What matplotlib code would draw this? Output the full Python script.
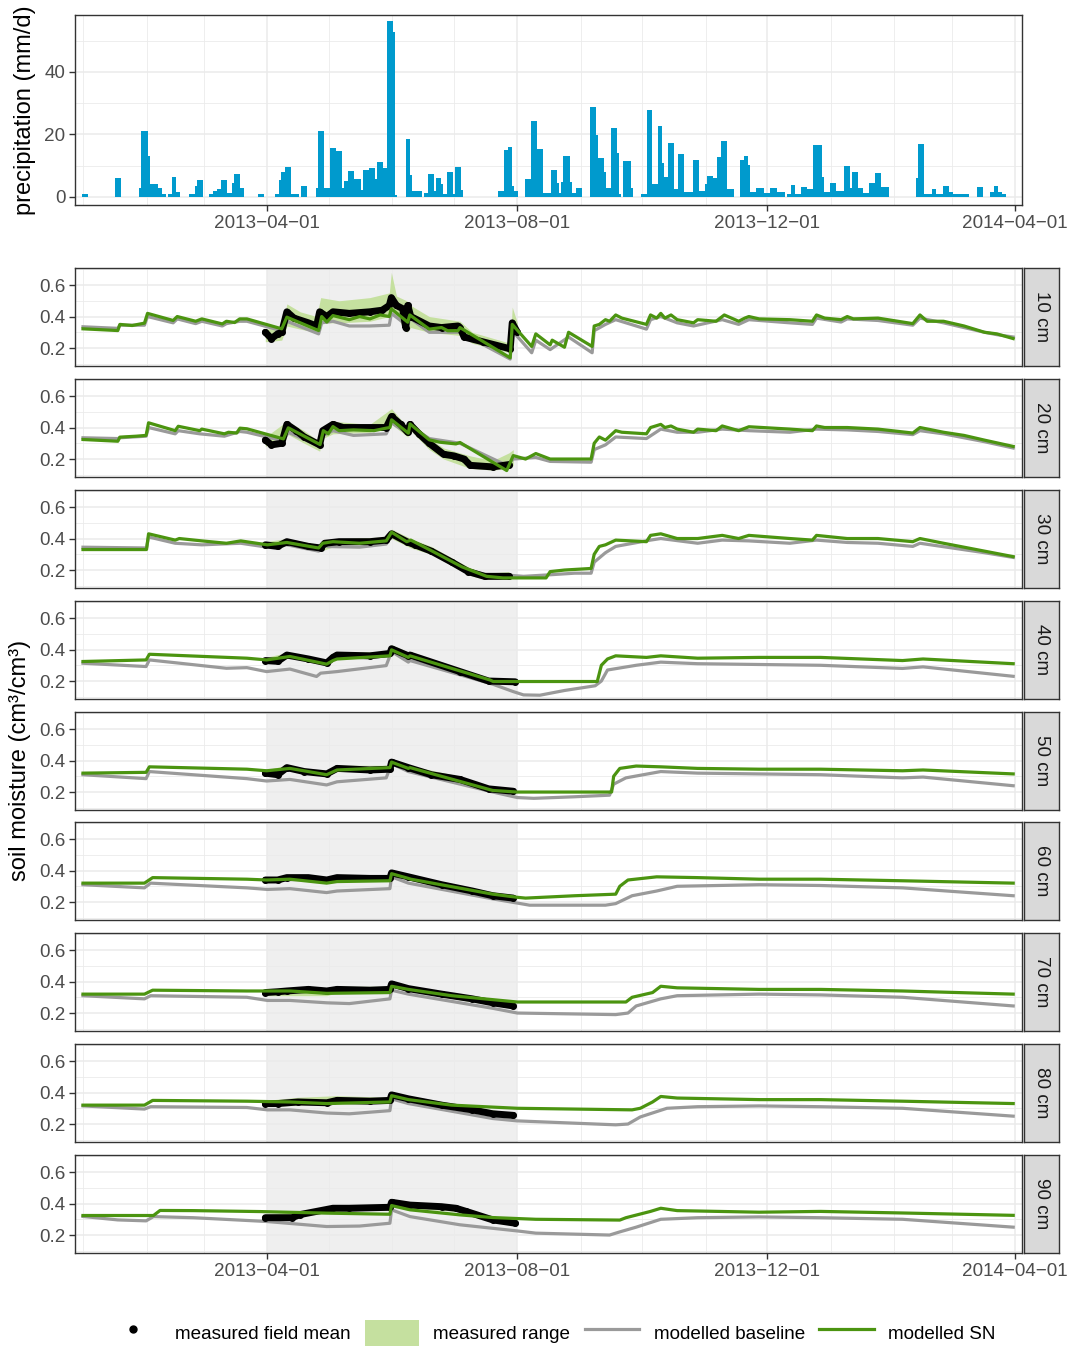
import numpy as np
import matplotlib.pyplot as plt
import matplotlib.dates as mdates
from matplotlib.lines import Line2D
from matplotlib.patches import Patch

plt.rcParams['font.family'] = ['Liberation Sans', 'DejaVu Sans']

# day numbers are counted from 2013-01-01
t0 = mdates.date2num(np.datetime64('2013-01-01'))

# precipitation: runs of days (first day, last day, mm/d)
rain_first = [0, 16, 28, 29, 32, 33, 37, 39, 42, 44, 46, 52, 55, 56, 62, 64, 66, 68, 71, 73, 74, 77,
              86, 94, 96, 97, 99, 102, 107, 114, 115, 118, 121, 124, 127, 128, 130, 133, 136, 137,
              140, 143, 144, 147, 149, 152, 153, 158, 160, 161, 167, 169, 172, 173, 175, 176, 178,
              181, 182, 185, 203, 206, 208, 210, 211, 216, 219, 222, 225, 229, 232, 233, 234, 235,
              238, 239, 241, 248, 251, 252, 255, 256, 258, 261, 262, 264, 268, 273, 276, 278, 281,
              283, 284, 286, 289, 291, 294, 298, 301, 304, 305, 308, 310, 312, 315, 321, 323, 325,
              326, 329, 333, 336, 339, 344, 346, 348, 351, 354, 357, 361, 362, 365, 368, 372, 375,
              376, 379, 381, 384, 387, 390, 407, 408, 411, 415, 417, 420, 423, 425, 437, 443, 445,
              447, 449]
rain_last = [2, 18, 28, 31, 32, 36, 38, 40, 43, 45, 47, 54, 55, 58, 63, 65, 67, 70, 72, 73, 76, 78,
             88, 95, 96, 98, 101, 105, 109, 114, 117, 120, 123, 126, 127, 129, 132, 135, 136, 139,
             142, 143, 146, 148, 151, 152, 153, 159, 160, 165, 168, 171, 172, 174, 175, 177, 180,
             181, 184, 185, 205, 207, 209, 210, 212, 218, 221, 224, 228, 231, 232, 233, 234, 237,
             238, 240, 243, 250, 251, 254, 255, 257, 260, 261, 262, 267, 268, 275, 277, 280, 282,
             283, 285, 288, 290, 293, 297, 300, 303, 304, 307, 309, 311, 314, 317, 322, 324, 325,
             328, 332, 335, 338, 342, 345, 347, 350, 353, 356, 360, 361, 364, 367, 371, 374, 375,
             378, 380, 383, 386, 389, 393, 407, 410, 414, 416, 419, 422, 424, 432, 439, 444, 446,
             448, 450]
rain_mm = [1.0, 6.0, 3.0, 21.0, 13.2, 4.0, 3.0, 1.0, 1.0, 6.3, 1.5, 1.0, 3.5, 5.5, 1.0, 1.8, 2.5,
           5.5, 1.2, 4.5, 7.2, 2.8, 1.0, 1.0, 5.4, 8.0, 9.6, 1.0, 3.5, 3.0, 21.1, 3.0, 15.6, 14.7,
           3.0, 5.1, 8.3, 5.8, 2.2, 8.7, 9.2, 5.6, 11.3, 9.2, 56.3, 52.9, 0.6, 18.6, 7.0, 2.0, 1.2,
           7.3, 2.0, 6.0, 4.0, 1.0, 7.9, 1.0, 9.6, 2.2, 2.0, 15.0, 16.1, 3.6, 2.0, 5.6, 24.3, 15.2,
           1.2, 8.6, 4.4, 1.2, 4.9, 13.2, 4.9, 1.2, 3.0, 28.9, 19.8, 12.6, 8.1, 2.8, 22.0, 14.2,
           1.0, 11.5, 3.0, 1.0, 27.8, 4.0, 22.8, 11.0, 6.4, 17.2, 2.4, 13.8, 1.5, 11.8, 2.0, 4.0,
           6.7, 6.0, 12.7, 18.0, 2.5, 11.8, 13.0, 10.2, 1.5, 3.0, 1.2, 3.0, 1.5, 1.0, 3.8, 1.0, 3.3,
           2.6, 16.6, 6.3, 1.5, 4.3, 2.0, 9.9, 3.0, 8.1, 2.8, 1.2, 4.3, 7.8, 3.3, 6.0, 16.8, 1.0,
           2.6, 1.0, 3.6, 1.5, 1.0, 3.3, 1.5, 3.6, 1.5, 1.0]

depths = ['10 cm', '20 cm', '30 cm', '40 cm', '50 cm', '60 cm', '70 cm', '80 cm', '90 cm']

# soil moisture, (day, value); range is (day, low, high)
sn10 = [(0, .322), (17, .311), (18, .35), (24, .343), (30, .358), (31.5, .42), (44, .375), (46, .40),
        (55, .37), (58, .385), (68, .353), (70, .37), (74, .362), (76.5, .385), (80, .385), (97, .322),
        (99.5, .396), (115, .311), (116.5, .40), (119, .365), (122, .406), (130, .38), (135, .40),
        (140, .385), (145, .41), (149.5, .40), (150.5, .449), (158.5, .364), (159.5, .41), (169, .32),
        (175, .33), (178, .31), (183, .31), (184, .33), (208.5, .138), (209.5, .35), (219, .21),
        (221, .29), (228, .22), (229, .25), (235, .205), (237, .30), (248.5, .21), (249.5, .34),
        (252, .35), (255, .38), (257, .37), (260, .41), (263, .39), (275, .35), (277, .41), (280, .39),
        (282, .42), (284, .39), (287, .41), (290, .38), (298, .36), (300, .38), (309, .37), (312, .40),
        (313, .41), (320, .37), (323, .39), (325, .40), (330, .385), (345, .38), (356, .37), (358, .41),
        (362, .39), (370, .38), (373, .40), (376, .385), (388, .39), (405, .355), (408.5, .41),
        (412, .37), (420, .37), (430, .34), (440, .30), (446, .29), (454, .26)]
bl10 = [(0, .335), (17, .325), (18, .345), (30, .345), (31.5, .40), (44, .36), (46, .385), (55, .355),
        (58, .37), (68, .34), (70, .355), (76.5, .37), (80, .37), (97, .31), (99.5, .37), (115, .29),
        (116.5, .36), (122, .37), (130, .34), (140, .34), (149.5, .345), (150.5, .42), (158.5, .34),
        (159.5, .39), (169, .30), (184, .30), (208.5, .13), (209.5, .31), (219, .17), (221, .25),
        (228, .19), (237, .27), (248.5, .17), (249.5, .31), (255, .35), (260, .38), (275, .32),
        (277, .38), (282, .40), (290, .36), (298, .34), (312, .38), (320, .35), (325, .38), (345, .36),
        (356, .35), (358, .39), (370, .365), (373, .385), (388, .375), (405, .345), (408.5, .39),
        (420, .36), (430, .33), (440, .30), (446, .285), (454, .27)]
mean10 = [(89, .30), (92, .26), (95, .29), (97, .30), (99.5, .43), (103, .39), (110, .36), (114, .34),
          (115.5, .43), (119, .40), (122, .43), (130, .42), (140, .43), (146, .44), (149.5, .47),
          (150.5, .52), (153, .47), (156, .45), (157.5, .33), (158.5, .47), (160, .40), (169, .34),
          (175, .33), (183, .34), (184, .33), (186, .27), (195, .24), (208.5, .195), (209.5, .36),
          (212, .30)]
range10 = [(89, .24, .32), (97, .25, .33), (99.5, .34, .48), (106, .32, .43), (114, .30, .40),
           (116, .36, .52), (125, .36, .50), (140, .37, .52), (149.5, .40, .55), (150.5, .44, .68),
           (153, .40, .53), (158, .30, .50), (160, .33, .47), (169, .30, .40), (184, .28, .37),
           (190, .23, .30), (208.5, .17, .23), (209.5, .30, .46), (212, .27, .36)]

sn20 = [(0, .324), (17, .313), (18, .339), (26, .345), (30.8, .35), (32, .43), (45, .38), (46.5, .408),
        (57, .38), (58, .39), (69, .36), (71, .37), (75, .365), (76.6, .396), (80, .392), (97.8, .328),
        (100.2, .398), (115.7, .292), (117.3, .38), (119.7, .36), (122, .406), (125, .38), (132, .385),
        (142, .38), (148, .396), (149.8, .40), (150.6, .449), (158.8, .364), (159.6, .423), (169, .322),
        (174, .307), (182, .296), (184, .305), (206.8, .127), (210, .222), (216, .20), (221, .235),
        (228, .20), (248, .20), (249.5, .30), (252, .34), (255, .32), (260, .38), (263, .37), (275, .36),
        (277, .40), (282, .42), (284, .40), (287, .41), (290, .39), (298, .37), (300, .39), (309, .38),
        (312, .41), (320, .38), (325, .405), (345, .39), (356, .38), (358, .41), (362, .40), (373, .40),
        (388, .39), (405, .365), (408.5, .40), (420, .37), (430, .35), (440, .32), (454, .28)]
bl20 = [(0, .335), (17, .33), (18, .335), (30.8, .345), (32, .40), (45, .36), (46.5, .38), (57, .36),
        (69, .345), (76.6, .375), (80, .37), (97.8, .315), (100.2, .37), (115.7, .28), (117.3, .35),
        (122, .38), (132, .35), (148, .36), (150.6, .43), (158.8, .36), (159.6, .41), (169, .33),
        (184, .30), (206.8, .16), (210, .20), (221, .21), (228, .185), (248, .18), (249.5, .26),
        (255, .29), (260, .34), (275, .33), (282, .39), (290, .37), (300, .37), (312, .39), (325, .38),
        (345, .37), (358, .39), (373, .385), (388, .375), (405, .355), (408.5, .38), (420, .36),
        (440, .31), (454, .27)]
mean20 = [(89, .32), (92, .29), (97, .30), (99.5, .42), (104, .38), (108, .34), (115.5, .29), (117, .38),
          (122, .42), (127, .40), (140, .40), (148, .40), (150.6, .47), (155, .42), (158.5, .37),
          (159.6, .42), (164, .36), (169, .30), (176, .23), (181, .22), (186, .20), (189, .16),
          (200, .15), (208, .165)]
range20 = [(89, .28, .34), (99.5, .36, .44), (108, .30, .38), (115.5, .25, .31), (117, .33, .40),
           (122, .36, .44), (140, .37, .42), (150.6, .42, .52), (158.5, .34, .40), (160, .38, .44),
           (169, .26, .33), (176, .20, .27), (189, .14, .22), (200, .13, .19), (208, .14, .24),
           (210, .16, .26)]

sn30 = [(0, .33), (31, .33), (32, .43), (45, .39), (47, .40), (58, .385), (70, .37), (77, .385),
        (90, .36), (99.5, .375), (115, .34), (117, .37), (122, .38), (135, .37), (148, .385),
        (150.6, .44), (158, .38), (160, .39), (169, .33), (185, .22), (197, .16), (205, .15), (226, .15),
        (228, .19), (235, .20), (248, .21), (249.5, .30), (252, .35), (255, .36), (260, .39), (275, .38),
        (277, .42), (282, .43), (290, .40), (300, .40), (312, .42), (320, .40), (325, .42), (345, .40),
        (356, .39), (358, .42), (373, .40), (388, .40), (405, .38), (408.5, .40), (420, .37), (440, .32),
        (454, .285)]
bl30 = [(0, .345), (31, .34), (32, .41), (45, .37), (58, .36), (77, .37), (90, .345), (99.5, .36),
        (115, .32), (117, .35), (135, .345), (148, .365), (150.6, .43), (158, .37), (169, .32),
        (185, .21), (197, .17), (205, .17), (215, .16), (228, .17), (240, .18), (248, .18), (249.5, .25),
        (255, .31), (260, .35), (277, .39), (282, .40), (300, .37), (312, .39), (325, .385), (345, .37),
        (358, .39), (373, .375), (388, .37), (405, .35), (408.5, .37), (440, .31), (454, .28)]
mean30 = [(89, .36), (95, .35), (99.5, .38), (110, .35), (116, .34), (118, .37), (125, .38), (140, .38),
          (148, .39), (150.6, .43), (158, .38), (162, .36), (170, .32), (180, .25), (188, .19),
          (196, .16), (208, .16)]
range30 = [(89, .34, .38), (99.5, .36, .40), (116, .32, .36), (125, .36, .40), (148, .37, .41),
           (150.6, .40, .46), (160, .34, .40), (170, .30, .35), (188, .17, .22), (196, .14, .18),
           (208, .14, .19)]

sn40 = [(0, .324), (30.8, .334), (32.4, .37), (80, .345), (89.6, .334), (101, .356), (118.9, .307),
        (122, .33), (124, .34), (149.8, .36), (150.6, .398), (158.8, .35), (159.6, .36), (198.6, .207),
        (200.2, .197), (251, .197), (253, .30), (256, .34), (260, .36), (275, .35), (282, .36),
        (300, .345), (330, .35), (360, .35), (400, .33), (410, .34), (454, .31)]
bl40 = [(0, .313), (30.8, .292), (32.4, .334), (70, .281), (80, .285), (89.6, .26), (101, .276),
        (114, .229), (116, .25), (124, .26), (148, .298), (150.6, .387), (158.8, .32), (159.6, .33),
        (200, .18), (210, .133), (215, .112), (223, .11), (235, .14), (250, .17), (253, .20), (256, .27),
        (270, .30), (282, .32), (300, .31), (360, .30), (400, .28), (410, .29), (454, .23)]
mean40 = [(89, .33), (95, .325), (99.5, .365), (110, .34), (119, .315), (122, .35), (124, .365),
          (140, .36), (149.8, .375), (150.6, .405), (158.8, .36), (159.6, .365), (184, .26), (198, .20),
          (211, .195)]
range40 = [(89, .31, .35), (99.5, .35, .38), (119, .30, .33), (124, .35, .38), (149.8, .36, .39),
           (150.6, .39, .43), (159.6, .35, .38), (184, .24, .28), (198, .18, .22), (211, .18, .21)]

sn50 = [(0, .32), (30.8, .325), (32.4, .36), (80, .345), (89.6, .335), (101, .35), (118.9, .31),
        (124, .34), (149.8, .355), (150.6, .39), (158.8, .35), (159.6, .355), (200, .21), (212, .20),
        (258, .20), (259, .30), (262, .35), (270, .365), (282, .36), (300, .35), (330, .345),
        (360, .345), (400, .335), (410, .34), (454, .315)]
bl50 = [(0, .31), (30.8, .285), (32.4, .33), (80, .285), (89.6, .27), (101, .28), (118.9, .245),
        (124, .265), (148, .29), (150.6, .38), (158.8, .33), (200, .20), (212, .165), (220, .16),
        (240, .17), (257, .18), (259, .25), (265, .29), (282, .33), (300, .32), (360, .31), (400, .29),
        (410, .295), (454, .24)]
mean50 = [(89, .32), (95, .31), (99.5, .355), (108, .33), (119, .315), (124, .35), (140, .34),
          (149.8, .345), (150.6, .39), (158.8, .355), (170, .31), (184, .28), (198, .22), (210, .205)]
range50 = [(89, .30, .34), (99.5, .34, .37), (119, .30, .33), (124, .33, .37), (149.8, .33, .37),
           (150.6, .37, .41), (158.8, .34, .37), (184, .26, .30), (198, .20, .24), (210, .19, .22)]

sn60 = [(0, .32), (30, .32), (34, .355), (80, .345), (89.6, .34), (101, .345), (118.9, .32), (124, .33),
        (149.8, .335), (150.6, .38), (158.8, .35), (160, .345), (200, .25), (212, .23), (216, .225),
        (240, .24), (260, .25), (262, .30), (266, .34), (280, .36), (300, .355), (330, .345),
        (360, .345), (400, .335), (454, .32)]
bl60 = [(0, .31), (30, .29), (33, .32), (80, .29), (90, .28), (101, .285), (118.9, .26), (124, .27),
        (149.8, .285), (150.6, .36), (158.8, .32), (200, .22), (218, .18), (255, .18), (260, .19),
        (268, .24), (280, .27), (290, .30), (330, .31), (360, .305), (400, .29), (454, .24)]
mean60 = [(89, .34), (95, .34), (99.5, .355), (110, .355), (119, .34), (124, .355), (140, .35),
          (149.8, .35), (150.6, .385), (158.8, .36), (175, .31), (190, .27), (200, .24), (210, .225)]
range60 = [(89, .32, .35), (99.5, .34, .37), (119, .33, .35), (124, .34, .37), (149.8, .34, .37),
           (150.6, .37, .40), (158.8, .34, .37), (190, .25, .29), (210, .21, .24)]

sn70 = [(0, .32), (30, .32), (34, .345), (80, .34), (101, .34), (118.9, .325), (149.8, .33),
        (150.6, .37), (158.8, .35), (180, .31), (200, .285), (212, .27), (265, .27), (268, .30),
        (278, .33), (282, .37), (290, .36), (330, .35), (360, .35), (400, .34), (454, .32)]
bl70 = [(0, .31), (30, .29), (33, .31), (80, .30), (90, .28), (101, .28), (118.9, .265), (130, .26),
        (149.8, .29), (150.6, .345), (158.8, .32), (200, .23), (212, .20), (260, .19), (266, .20),
        (270, .245), (282, .29), (290, .31), (330, .32), (360, .315), (400, .30), (454, .245)]
mean70 = [(89, .33), (95, .335), (99.5, .34), (110, .35), (119, .34), (124, .35), (140, .345),
          (149.8, .35), (150.6, .385), (158.8, .355), (175, .32), (190, .29), (200, .265), (210, .245)]
range70 = [(89, .31, .35), (99.5, .31, .36), (119, .31, .35), (124, .33, .37), (149.8, .33, .37),
           (150.6, .36, .39), (158.8, .34, .37), (190, .27, .31), (210, .23, .26)]

sn80 = [(0, .32), (30, .32), (34, .35), (80, .345), (101, .34), (118.9, .33), (149.8, .34), (150.6, .38),
        (158.8, .355), (180, .32), (212, .30), (268, .29), (272, .30), (278, .34), (282, .375),
        (290, .365), (330, .355), (360, .355), (400, .345), (454, .33)]
bl80 = [(0, .315), (30, .295), (33, .31), (80, .305), (90, .29), (101, .29), (118.9, .27), (130, .265),
        (149.8, .285), (150.6, .36), (158.8, .33), (200, .235), (212, .22), (260, .195), (266, .20),
        (272, .245), (285, .30), (300, .31), (330, .315), (360, .31), (400, .30), (454, .25)]
mean80 = [(89, .33), (95, .33), (105, .34), (119, .335), (124, .35), (140, .345), (149.8, .35),
          (150.6, .385), (158.8, .36), (175, .32), (190, .29), (200, .265), (210, .255)]
range80 = [(89, .31, .35), (105, .32, .37), (124, .33, .38), (149.8, .33, .37), (150.6, .36, .40),
           (158.8, .34, .38), (190, .27, .31), (210, .24, .27)]

sn90 = [(0, .324), (34.4, .324), (37.6, .356), (53.9, .355), (86.5, .349), (118.9, .339), (149.8, .332),
        (150.6, .387), (159.6, .36), (184, .328), (200, .311), (221, .30), (262, .295), (265, .31),
        (277, .35), (282, .37), (290, .355), (330, .345), (360, .35), (400, .34), (454, .325)]
bl90 = [(0, .318), (17, .296), (30.8, .29), (34.4, .317), (53.9, .31), (89.6, .286), (118.9, .254),
        (135, .257), (149.8, .275), (150.6, .36), (159.6, .317), (184, .265), (212, .226), (221, .212),
        (257, .20), (262, .22), (270, .25), (282, .30), (300, .31), (330, .315), (360, .31), (400, .30),
        (454, .25)]
mean90 = [(89, .31), (102, .31), (106, .33), (122, .37), (130, .37), (149.8, .376), (150.6, .408),
          (159.6, .39), (175, .38), (182, .37), (187, .35), (200, .296), (211, .275)]
range90 = [(89, .30, .33), (106, .32, .35), (122, .35, .39), (149.8, .36, .39), (150.6, .39, .42),
           (159.6, .37, .40), (182, .35, .39), (200, .28, .31), (211, .26, .29)]

sn_all = [sn10, sn20, sn30, sn40, sn50, sn60, sn70, sn80, sn90]
bl_all = [bl10, bl20, bl30, bl40, bl50, bl60, bl70, bl80, bl90]
mean_all = [mean10, mean20, mean30, mean40, mean50, mean60, mean70, mean80, mean90]
range_all = [range10, range20, range30, range40, range50, range60, range70, range80, range90]

col_rain = '#009ACD'
col_sn = '#4b9410'
col_bl = '#9a9a9a'
col_rng = '#c5e09f'
grid_col = '#ebebeb'

W, H = 1069, 1346
fig = plt.figure(figsize=(W / 100, H / 100), dpi=100)


def box(x0, y0, x1, y1):
    return [x0 / W, 1 - y1 / H, (x1 - x0) / W, (y1 - y0) / H]


xlim = (t0 - 3.9, t0 + 458.3)
major = mdates.MonthLocator(bymonth=[4, 8, 12])
minor = mdates.MonthLocator()


def date_lbl(x, pos=None):
    return mdates.num2date(x).strftime('%Y-%m-%d').replace('-', '\u2212')


def style(ax, show_x):
    ax.set_xlim(*xlim)
    ax.xaxis.set_major_locator(major)
    ax.xaxis.set_minor_locator(minor)
    ax.xaxis.set_major_formatter(plt.FuncFormatter(date_lbl))
    ax.grid(which='major', color=grid_col, lw=1.1, zorder=0.5)
    ax.grid(which='minor', color=grid_col, lw=0.6, zorder=0.5)
    ax.set_axisbelow(True)
    for s in ax.spines.values():
        s.set_color('#333333')
        s.set_linewidth(1.0)
    ax.tick_params(which='major', length=4, width=1, color='#333333', labelsize=13.6,
                   labelcolor='#4d4d4d', pad=3)
    ax.tick_params(which='minor', length=0)
    if not show_x:
        ax.tick_params(axis='x', which='major', length=0, labelbottom=False)


# precipitation
axp = fig.add_axes(box(75, 15, 1022, 205))
style(axp, True)
first = np.array(rain_first)
last = np.array(rain_last)
axp.bar(t0 + first - 0.5, rain_mm, width=last - first + 1, align='edge', color=col_rain,
        lw=0, zorder=2)
axp.set_ylim(-2.6, 58.2)
axp.set_yticks([0, 20, 40])
axp.set_yticks([10, 30, 50], minor=True)
axp.set_ylabel('precipitation (mm/d)', fontsize=17, labelpad=6)

# soil moisture facets
tops = [268, 379, 490, 601, 712, 822, 933, 1044, 1155]
for i, depth in enumerate(depths):
    y0 = tops[i]
    ax = fig.add_axes(box(75, y0, 1022, y0 + 98))
    style(ax, i == len(depths) - 1)
    ax.set_ylim(0.086, 0.708)
    ax.set_yticks([0.2, 0.4, 0.6])
    ax.set_yticks([0.1, 0.3, 0.5, 0.7], minor=True)
    ax.set_yticklabels(['0.2', '0.4', '0.6'])
    ax.axvspan(mdates.date2num(np.datetime64('2013-04-01')),
               mdates.date2num(np.datetime64('2013-08-01')),
               color='#efefef', lw=0, zorder=0.2)
    r = np.array(range_all[i])
    ax.fill_between(t0 + r[:, 0], r[:, 1], r[:, 2], color=col_rng, lw=0, zorder=2)
    b = np.array(bl_all[i])
    ax.plot(t0 + b[:, 0], b[:, 1], color=col_bl, lw=2.3, zorder=3)
    m = np.array(mean_all[i])
    ax.plot(t0 + m[:, 0], m[:, 1], color='black', lw=5, zorder=4,
            marker='o', ms=4, solid_joinstyle='round', solid_capstyle='round')
    s = np.array(sn_all[i])
    ax.plot(t0 + s[:, 0], s[:, 1], color=col_sn, lw=2.3, zorder=5)

    st = fig.add_axes(box(1024, y0, 1059, y0 + 98))
    st.set_facecolor('#d9d9d9')
    st.set_xticks([])
    st.set_yticks([])
    for sp in st.spines.values():
        sp.set_color('#333333')
        sp.set_linewidth(1.0)
    st.text(0.5, 0.5, depth, rotation=-90, ha='center', va='center', fontsize=13.6,
            color='#1a1a1a', transform=st.transAxes)

fig.text(20 / W, 1 - 760 / H, 'soil moisture (cm\u00b3/cm\u00b3)', rotation=90, ha='center',
         va='center', fontsize=17)

handles = [Line2D([], [], marker='o', color='black', ls='none', ms=5),
           Patch(facecolor=col_rng, edgecolor='none'),
           Line2D([], [], color=col_bl, lw=2.3),
           Line2D([], [], color=col_sn, lw=2.3)]
labels = ['measured field mean', 'measured range', 'modelled baseline', 'modelled SN']
fig.legend(handles, labels, loc='center', bbox_to_anchor=(0.515, 1 - 1333 / H), ncol=4,
           frameon=False, fontsize=13.6, handlelength=2.9, handleheight=1.8,
           handletextpad=0.75, columnspacing=0.75)

fig.savefig('out.png', dpi=100)
